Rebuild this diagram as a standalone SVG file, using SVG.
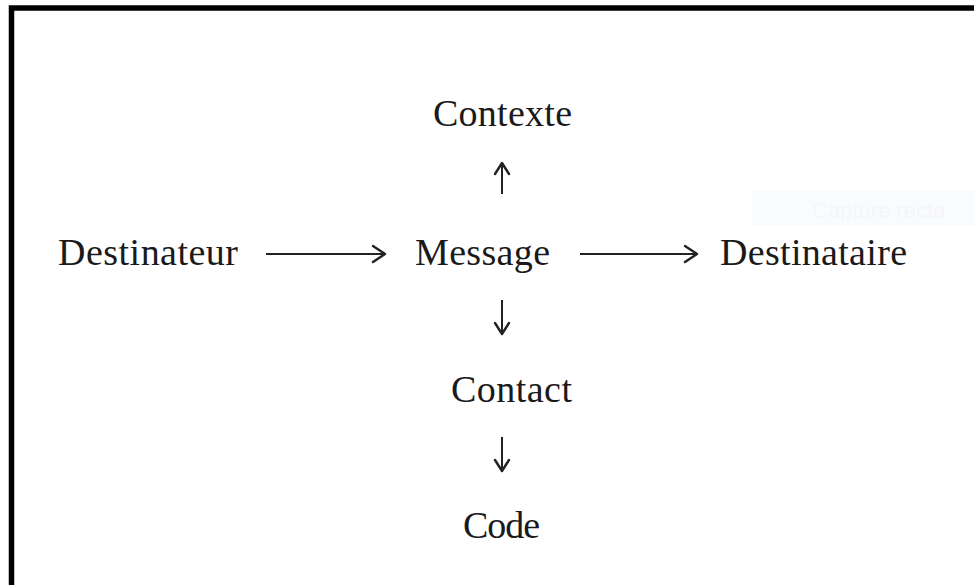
<svg xmlns="http://www.w3.org/2000/svg" width="974" height="585" viewBox="0 0 974 585">
<style>
.t{font-family:"Liberation Serif","Times New Roman",serif;font-size:38px;fill:#1a1a1a;}
.c{stroke:#222;stroke-width:2;fill:none;}
.h{stroke:#222;stroke-width:2.4;fill:none;stroke-linecap:round;stroke-linejoin:round;}
</style>
<rect width="974" height="585" fill="#fff"/>
<path d="M11.5 585 V8 H974" stroke="#000" stroke-width="5.5" fill="none"/>
<g id="overlay" opacity="0.35">
<rect x="752" y="190" width="222" height="36" fill="#f3f6fb"/>
<text x="812" y="218" font-family="Liberation Sans, Arial, sans-serif" font-size="22" fill="#e2e7ef">Capture recta</text>
</g>
<g id="connectors">
<path class="c" d="M266 254 H384"/><path class="h" d="M373 246 L385 254 L373 262"/>
<path class="c" d="M580 254 H696"/><path class="h" d="M685 246 L697 254 L685 262"/>
<path class="c" d="M502 194 V164"/><path class="h" d="M495 174 L502 163 L509 174"/>
<path class="c" d="M502 300 V333"/><path class="h" d="M495 323 L502 334 L509 323"/>
<path class="c" d="M502 437 V470"/><path class="h" d="M495 460 L502 471 L509 460"/>
</g>
<g id="destinateur"><text class="t" x="58" y="265" textLength="180">Destinateur</text></g>
<g id="message"><text class="t" x="415" y="265" textLength="135">Message</text></g>
<g id="destinataire"><text class="t" x="720" y="265" textLength="187">Destinataire</text></g>
<g id="contexte"><text class="t" x="433" y="126" textLength="139">Contexte</text></g>
<g id="contact"><text class="t" x="451" y="402" textLength="121">Contact</text></g>
<g id="code"><text class="t" x="463" y="538" textLength="77">Code</text></g>
</svg>
